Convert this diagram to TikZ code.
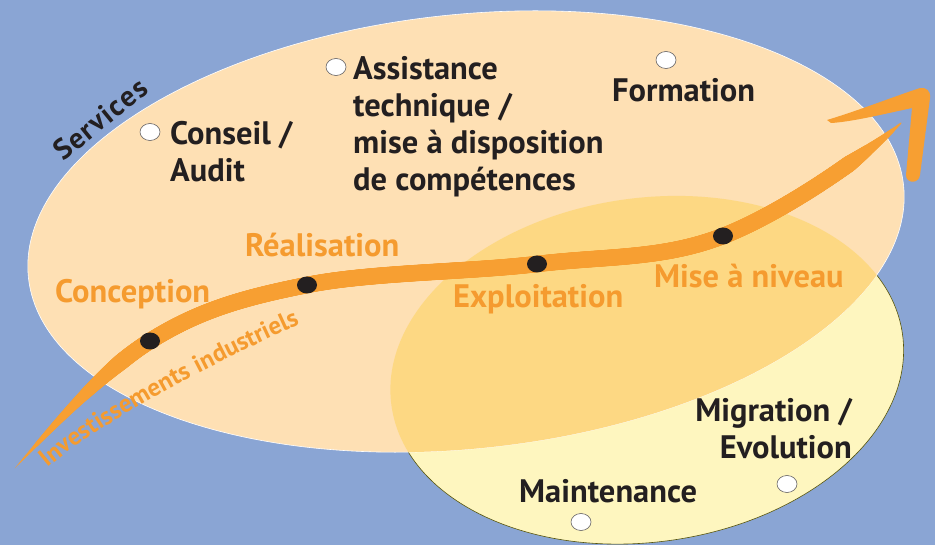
\documentclass[tikz,border=0pt]{standalone}
\usepackage{fontspec}
\newfontfamily\lblfont{PT Sans}
\newfontfamily\servfont[LetterSpace=5]{PT Sans}
\newfontfamily\invfont[LetterSpace=4]{PT Sans}
\usetikzlibrary{decorations.markings,decorations.text,shapes.geometric}
\definecolor{bgblue}{HTML}{8AA5D4}
\definecolor{peach}{HTML}{FEE0B4}
\definecolor{paleyellow}{HTML}{FEF6BF}
\definecolor{overlapc}{HTML}{FDD883}
\definecolor{arroworange}{HTML}{F79F32}
\definecolor{textorange}{HTML}{F59B2F}
\definecolor{ink}{HTML}{231F20}
\begin{document}
\begin{tikzpicture}[x=1pt,y=-1pt,
  blk/.style={font=\lblfont\bfseries\fontsize{32.5}{37}\selectfont, text=ink, inner sep=0pt, anchor=base west},
  org/.style={font=\lblfont\bfseries\fontsize{32.5}{37}\selectfont, text=textorange, inner sep=0pt, anchor=base west},
  hole/.style={ellipse, draw=ink!70, line width=0.6pt, fill=white, minimum width=20pt, minimum height=17pt, inner sep=0pt},
  dotm/.style={ellipse, fill=ink, minimum width=20pt, minimum height=17pt, inner sep=0pt}]
\useasboundingbox (0,0) rectangle (935,545);
\fill[bgblue] (0,0) rectangle (935,545);
% ellipses
\fill[paleyellow, draw=ink!45!olive, line width=0.6pt, rotate around={8:(647,370)}] (647,370) ellipse [x radius=258pt, y radius=172pt];
\fill[peach, draw=white, line width=0.6pt, rotate around={6:(466,231.5)}] (466,231.5) ellipse [x radius=440pt, y radius=217pt];
\begin{scope}
  \clip[rotate around={6:(466,231.5)}] (466,231.5) ellipse [x radius=440pt, y radius=217pt];
  \fill[overlapc, rotate around={8:(647,370)}] (647,370) ellipse [x radius=258pt, y radius=172pt];
\end{scope}
% arrow path
\coordinate (P0) at (15,468);
\coordinate (P1) at (150,341);
\coordinate (P2) at (307,285);
\coordinate (P3) at (537,264);
\coordinate (P4) at (723,236);
\coordinate (P5) at (901,123);
\path[decorate, decoration={markings, mark=between positions 0 and 1 step 0.8pt with {
    \pgfmathsetmacro\dd{\pgfkeysvalueof{/pgf/decoration/mark info/sequence number}*0.8}
    \pgfmathsetmacro\rr{7.9*min(1,\dd/150)*min(1,(\pgfdecoratedpathlength-\dd)/70)+0.3}
    \fill[arroworange] (0,0) circle [radius=\rr pt];
  }}]
  (P0) .. controls (50,430) and (101.3,371.5) .. (P1)
       .. controls (198.7,310.5) and (242.5,297.8) .. (P2)
       .. controls (371.5,272.2) and (467.7,272.2) .. (P3)
       .. controls (606.3,255.8) and (662.5,259.5) .. (P4)
       .. controls (783.5,212.5) and (866,155) .. (P5);
% arrow head
\fill[arroworange] (827,120) .. controls (860,110) and (890,98) .. (920,88)
  .. controls (926,87) and (931,91) .. (930,98)
  -- (920,175) .. controls (919,184) and (906,184) .. (906,175)
  -- (912,108) .. controls (880,115) and (850,122) .. (831,123) -- cycle;
% dots
\node[dotm] (d1) at (P1) {};
\node[dotm] (d2) at (P2) {};
\node[dotm] (d3) at (P3) {};
\node[dotm] (d4) at (P4) {};
% rotated label along arrow
\path[decorate, decoration={text along path, text color=textorange,
    text={|\invfont\bfseries\fontsize{25}{25}\selectfont|Investissements industriels},
    text align=center}]
  (36,478) .. controls (90,428) and (200,368) .. (314,318);
% Services
\node[font=\servfont\bfseries\fontsize{29}{29}\selectfont, text=ink, rotate=39, inner sep=0pt] (serv) at (100,119) {Services};
% white holes
\node[hole] (h1) at (150,132) {};
\node[hole] (h2) at (336,67) {};
\node[hole] (h3) at (666,60) {};
\node[hole] (h4) at (787,484) {};
\node[hole] (h5) at (581,522) {};
% black texts
\node[blk] (c1) at (170,145) {Conseil /};
\node[blk] (c2) at (170,182) {Audit};
\node[blk] (a1) at (353,80) {Assistance};
\node[blk] (a2) at (353,117) {technique /};
\node[blk] (a3) at (353,154) {mise à disposition};
\node[blk] (a4) at (353,191) {de compétences};
\node[blk] (f1) at (612,102) {Formation};
\node[blk, anchor=base east] (m1) at (852,421) {Migration /};
\node[blk, anchor=base east] (m2) at (852,458) {Evolution};
\node[blk] (mt) at (519,502) {Maintenance};
% orange texts
\node[org] (o1) at (55,303) {Conception};
\node[org] (o2) at (245,257) {Réalisation};
\node[org] (o3) at (453,308) {Exploitation};
\node[org] (o4) at (654,288) {Mise à niveau};
\end{tikzpicture}
\end{document}
